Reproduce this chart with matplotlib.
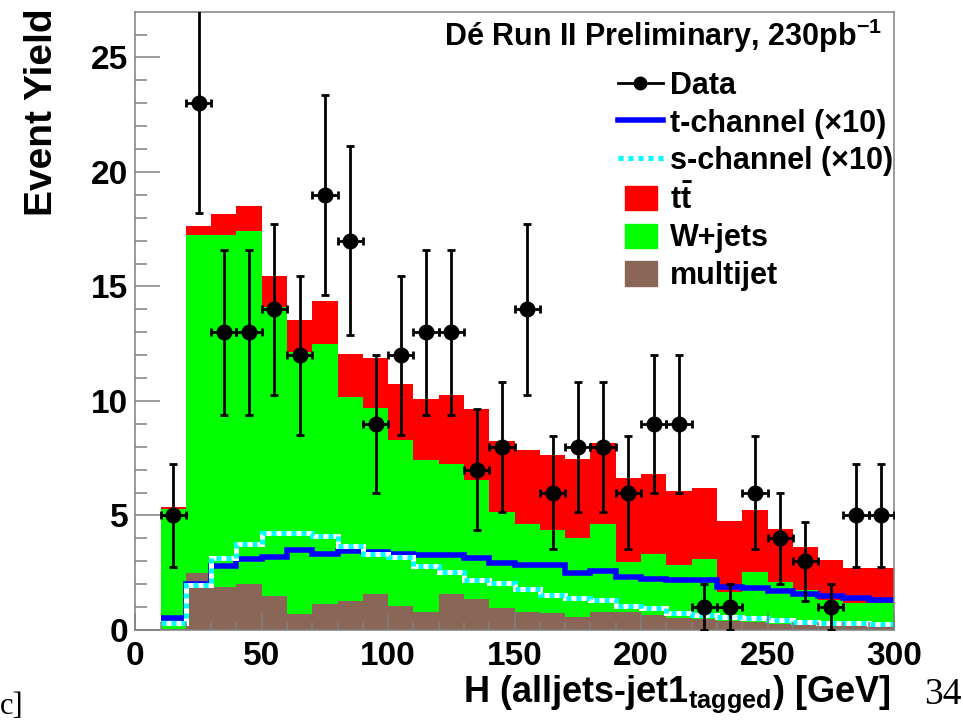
import numpy as np
import matplotlib
matplotlib.use("Agg")
import matplotlib.pyplot as plt
from matplotlib.lines import Line2D
from matplotlib.patches import Patch, Rectangle
from matplotlib.legend_handler import HandlerPatch

plt.rcParams['font.family'] = ['Liberation Sans', 'DejaVu Sans']
plt.rcParams['font.weight'] = 'bold'
plt.rcParams['mathtext.fontset'] = 'custom'
plt.rcParams['mathtext.rm'] = 'Liberation Sans:bold'
plt.rcParams['mathtext.bf'] = 'Liberation Sans:bold'
plt.rcParams['mathtext.it'] = 'Liberation Sans:bold'

# bins 10..300 GeV, 10 GeV wide
edges = np.arange(10, 301, 10)
centers = edges[:-1] + 5

data = [5, 23, 13, 13, 14, 12, 19, 17, 9, 12, 13, 13, 7, 8, 14,
        6, 8, 8, 6, 9, 9, 1, 1, 6, 4, 3, 1, 5, 5]

multijet = [0.05, 2.47, 1.86, 2.00, 1.50, 0.68, 1.12, 1.26, 1.58, 1.05,
            0.80, 1.58, 1.37, 0.97, 0.77, 0.76, 0.58, 0.80, 0.80, 0.65,
            0.51, 0.46, 0.41, 0.36, 0.26, 0.22, 0.17, 0.17, 0.15]
wjets = [5.24, 14.76, 15.37, 15.41, 12.60, 11.46, 11.38, 8.91, 8.12, 7.24,
         6.61, 5.69, 5.17, 4.19, 3.85, 3.60, 3.42, 3.82, 2.18, 2.66,
         2.32, 2.62, 1.26, 2.18, 1.85, 1.52, 1.14, 0.99, 1.01]
ttbar = [0.09, 0.43, 0.94, 1.11, 1.34, 1.41, 1.85, 1.90, 2.19, 2.44,
         2.69, 2.98, 3.13, 3.10, 3.23, 3.30, 3.46, 3.55, 3.64, 3.49,
         3.25, 3.12, 3.10, 2.72, 2.32, 1.89, 1.74, 1.56, 1.56]

# single top signals, scaled x10
tchan = [0.54, 2.00, 2.81, 3.08, 3.17, 3.49, 3.31, 3.46, 3.39, 3.30,
         3.27, 3.27, 3.13, 2.91, 2.85, 2.83, 2.50, 2.59, 2.30, 2.24,
         2.18, 2.18, 1.86, 1.82, 1.71, 1.56, 1.48, 1.41, 1.31]
schan = [0.32, 1.96, 3.13, 3.74, 4.22, 4.22, 4.10, 3.66, 3.34, 3.17,
         2.79, 2.54, 2.18, 2.04, 1.77, 1.53, 1.38, 1.31, 1.05, 0.97,
         0.73, 0.65, 0.58, 0.51, 0.44, 0.36, 0.32, 0.29, 0.25]

col_tt = '#ff0000'
col_w = '#00ff00'
col_mj = '#8a6656'
axcol = '#808080'

fig = plt.figure(figsize=(9.63, 7.2), dpi=100)
ax = fig.add_axes([0.1405, 0.125, 0.7878, 0.8588])

s1 = np.array(multijet)
s2 = s1 + np.array(wjets)
s3 = s2 + np.array(ttbar)
ax.stairs(s3, edges, baseline=s2, fill=True, color=col_tt, zorder=1)
ax.stairs(s2, edges, baseline=s1, fill=True, color=col_w, zorder=1)
ax.stairs(s1, edges, baseline=0, fill=True, color=col_mj, zorder=1)

ax.stairs(tchan, edges, baseline=None, color='#0000ff', lw=4, zorder=2)
ax.stairs(schan, edges, baseline=None, color='white', lw=3.6, zorder=2)
ax.stairs(schan, edges, baseline=None, color='#00ffff', lw=3.6,
          linestyle=(0, (1, 1)), zorder=2)

derr = np.sqrt(np.array(data, dtype=float))
ax.errorbar(centers, data, yerr=derr, xerr=5, fmt='o', color='black',
            ms=10.5, elinewidth=2, capsize=3, capthick=2, zorder=3)

ax.set_xlim(0, 300)
ax.set_ylim(0, 27)
ax.set_xticks(np.arange(0, 301, 50))
ax.set_xticks(np.arange(0, 301, 10), minor=True)
ax.set_yticks(np.arange(0, 26, 5))
ax.set_yticks(np.arange(0, 27, 1), minor=True)
ax.tick_params(axis='both', which='both', direction='in', colors=axcol,
               labelcolor='black', width=1.1, labelsize=24)
ax.tick_params(axis='y', which='major', length=18, pad=5)
ax.tick_params(axis='y', which='minor', length=8.6)
ax.tick_params(axis='x', which='major', length=12, pad=8)
ax.tick_params(axis='x', which='minor', length=6)
for lab in ax.get_xticklabels() + ax.get_yticklabels():
    lab.set_fontweight('bold')
for sp in ax.spines.values():
    sp.set_color(axcol)
    sp.set_linewidth(1.1)
ax.set_axisbelow(False)

fig.text(42 / 963, 1 - 8 / 720, 'Event Yield', rotation=90, ha='center',
         va='top', fontsize=28, fontweight='bold')
fig.text(890 / 963, 1 - 702 / 720,
         r'H (alljets-jet1$_{\mathrm{tagged}}$) [GeV]', ha='right',
         va='baseline', fontsize=26, fontweight='bold')
fig.text(882 / 963, 1 - 36 / 720,
         r'Dé Run II Preliminary, 230pb$^{\mathrm{-1}}$', ha='right',
         va='center', fontsize=22, fontweight='bold')

fig.text(0.0, 1 - 714 / 720, 'c]', ha='left', va='baseline',
         fontsize=22, family='Liberation Serif', fontweight='normal')
fig.text(962 / 963, 1 - 704 / 720, '34', ha='right', va='baseline',
         fontsize=27, family='Liberation Serif', fontweight='normal')


def small_box(legend, orig_handle, xdescent, ydescent, width, height, fontsize):
    return Rectangle((-xdescent + width * 0.16, -ydescent), width * 0.7, height)


handles = [
    Line2D([], [], color='black', marker='o', ms=9, lw=2),
    Line2D([], [], color='#0000ff', lw=4),
    Line2D([], [], color='#00ffff', lw=3.6, linestyle=(0, (1, 1))),
    Patch(color=col_tt),
    Patch(color=col_w),
    Patch(color=col_mj),
]
labels = ['Data', 't-channel (×10)', 's-channel (×10)', r'$t\bar{t}$',
          'W+jets', 'multijet']
leg = fig.legend(handles, labels, loc='upper left',
                 bbox_to_anchor=(618 / 963, 1 - 71 / 720),
                 frameon=False, fontsize=22, borderpad=0, borderaxespad=0,
                 handlelength=1.47, handletextpad=0.23, handleheight=0.85,
                 labelspacing=0.25,
                 handler_map={Patch: HandlerPatch(patch_func=small_box)})
for t in leg.get_texts():
    t.set_fontweight('bold')

fig.savefig('out.png', dpi=100)
